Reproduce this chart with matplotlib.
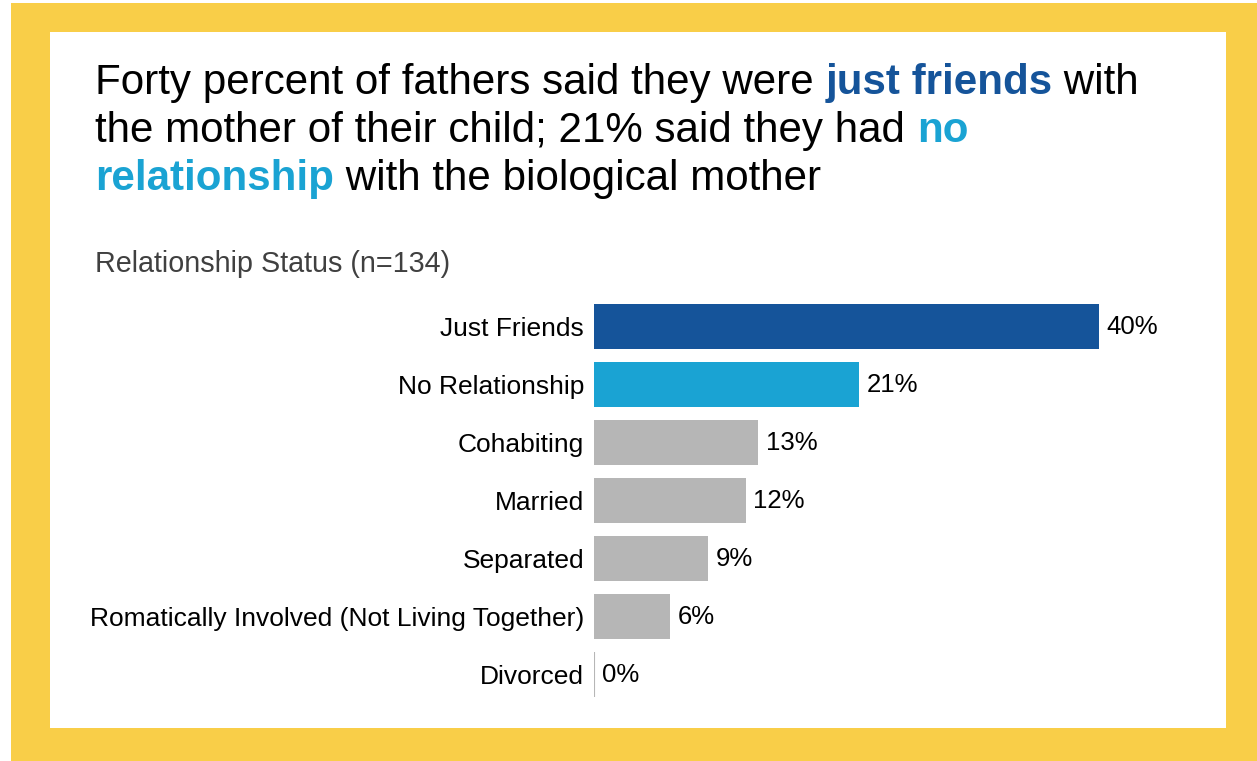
import matplotlib
matplotlib.use("Agg")
import matplotlib.pyplot as plt
from matplotlib.patches import Rectangle

categories = ["Just Friends", "No Relationship", "Cohabiting", "Married",
              "Separated", "Romatically Involved (Not Living Together)", "Divorced"]
values = [40, 21, 13, 12, 9, 6, 0]
value_labels = ["40%", "21%", "13%", "12%", "9%", "6%", "0%"]
subtitle = "Relationship Status (n=134)"

DARK_BLUE = "#15549A"
LIGHT_BLUE = "#1AA3D3"
GREY = "#B6B6B6"
YELLOW = "#F9CE48"
bar_colors = [DARK_BLUE, LIGHT_BLUE, GREY, GREY, GREY, GREY, GREY]

title_lines = [
    [("Forty percent of fathers said they were ", "normal", "black"),
     ("just friends", "bold", DARK_BLUE),
     (" with", "normal", "black")],
    [("the mother of their child; 21% said they had ", "normal", "black"),
     ("no", "bold", LIGHT_BLUE)],
    [("relationship", "bold", LIGHT_BLUE),
     (" with the biological mother", "normal", "black")],
]

plt.rcParams["font.family"] = ["Liberation Sans", "DejaVu Sans"]

W, H = 1257, 761
fig = plt.figure(figsize=(W / 100, H / 100), dpi=100)
fig.patch.set_facecolor("white")


def fx(px):
    return px / W


def fy(py):
    return 1 - py / H


# yellow frame and white card
fig.patches.append(Rectangle((fx(11), fy(761)), fx(1257 - 11), fy(3) - fy(761),
                             transform=fig.transFigure, facecolor=YELLOW,
                             edgecolor="none", zorder=0))
fig.patches.append(Rectangle((fx(50), fy(728)), fx(1226 - 50), fy(32) - fy(728),
                             transform=fig.transFigure, facecolor="white",
                             edgecolor="none", zorder=1))

# headline with coloured bold phrases
renderer = fig.canvas.get_renderer()
TITLE_SIZE = 30.3


def advance(s, weight):
    def w(t):
        tt = fig.text(0, 0, t, fontsize=TITLE_SIZE, fontweight=weight)
        ext = tt.get_window_extent(renderer).width
        tt.remove()
        return ext
    return w("x" + s + "x") - w("xx")


baselines = [94, 142, 190]
for line, base in zip(title_lines, baselines):
    x = 95
    for seg, weight, color in line:
        fig.text(fx(x), fy(base), seg, fontsize=TITLE_SIZE, fontweight=weight,
                 color=color, va="baseline", ha="left", zorder=5)
        x += advance(seg, weight)

fig.text(fx(95), fy(272), subtitle, fontsize=20.7, color="#404040",
         va="baseline", ha="left", zorder=5)

# bar chart
ax_left, ax_right = 594, 1226
ax_top, ax_bottom = 297.5, 703.5
ax = fig.add_axes([fx(ax_left), fy(ax_bottom), fx(ax_right - ax_left),
                   fy(ax_top) - fy(ax_bottom)])
ax.set_facecolor("none")
ax.set_zorder(5)
px_per_pct = 505 / 40
ax.set_xlim(0, (ax_right - ax_left) / px_per_pct)
ax.set_ylim(len(categories) - 0.5, -0.5)

ypos = list(range(len(categories)))
edge_w = [1.5 if v == 0 else 0 for v in values]
bars = ax.barh(ypos, values, height=0.776, color=bar_colors,
               edgecolor=GREY, linewidth=edge_w)
ax.bar_label(bars, labels=value_labels, padding=5.5, fontsize=18.5, color="black")

ax.set_yticks(ypos)
ax.set_yticklabels(categories, fontsize=19.0, color="black")
ax.tick_params(axis="y", length=0, pad=7.2)
ax.set_xticks([])
for s in ax.spines.values():
    s.set_visible(False)

fig.savefig("out.png", dpi=100, facecolor=fig.get_facecolor())
